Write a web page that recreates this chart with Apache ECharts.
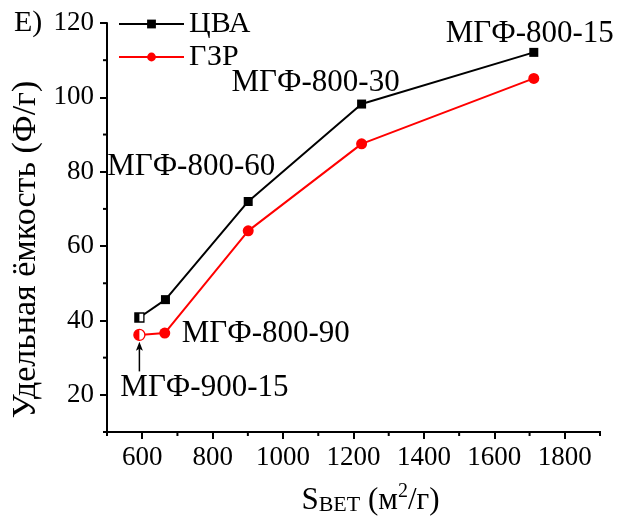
<!DOCTYPE html>
<html><head><meta charset="utf-8">
<script src="https://cdn.jsdelivr.net/npm/echarts@6/dist/echarts.min.js"></script>
<style>html,body{margin:0;padding:0;background:#fff}#wrap{position:relative;width:637px;height:531px}#c{width:637px;height:531px}#frame{position:absolute;box-sizing:border-box;border-left:2px solid #000;border-bottom:2px solid #000;pointer-events:none}</style>
</head><body><div id="wrap"><div id="c"></div><div id="frame"></div></div>
<script>
// ---- data ----
const sBET_CVA = [592, 666, 901, 1223, 1712];
const cap_CVA  = [40.8, 45.6, 72.0, 98.2, 112.1];
const sBET_GZR = [592, 664, 901, 1223, 1712];
const cap_GZR  = [36.1, 36.6, 64.1, 87.5, 105.1];
const labels_CVA = ['', '', 'МГФ-800-60', 'МГФ-800-30', 'МГФ-800-15'];
const labels_GZR = ['МГФ-900-15', 'МГФ-800-90', '', '', ''];
const xTickLabels = [600, 800, 1000, 1200, 1400, 1600, 1800];
const xMinorTicks = [500, 700, 900, 1100, 1300, 1500, 1700, 1900];
const yTickLabels = [20, 40, 60, 80, 100, 120];
const yMinorTicks = [10, 30, 50, 70, 90, 110];
const arrowFromY = 26.3, arrowToY = 34.3;   // arrow annotation under МГФ-900-15 (data units)

// ---- styles ----
const FONT = '"Liberation Serif", serif';
const labelOffsets = {
  'МГФ-800-60': [-57, -35],
  'МГФ-800-30': [-46, -21],
  'МГФ-800-15': [-4, -19],
  'МГФ-800-90': [101, 1],
  'МГФ-900-15': [65, 53]
};
function mkData(xs, ys, labels, firstStyle) {
  return xs.map((x, i) => {
    const d = { value: [x, ys[i]] };
    if (i === 0) d.itemStyle = firstStyle;
    if (labels[i]) {
      d.label = { show: true, formatter: labels[i], position: 'inside',
        offset: labelOffsets[labels[i]], fontFamily: FONT, fontSize: 31, color: '#000' };
    }
    return d;
  });
}
const X0 = 500, X1 = 1900, Y0 = 10, Y1 = 120;
const plain = v => String(v);
const eTitle = { type: 'text', left: 14, top: 8, style: { text: 'Е)', font: '30px "Liberation Serif"', fill: '#000' } };

const chart = echarts.init(document.getElementById('c'), null, { renderer: 'canvas' });
chart.setOption({
  backgroundColor: '#fff',
  animation: false,
  grid: { left: 107, right: 37, top: 23, bottom: 99, containLabel: false },
  legend: {
    data: ['ЦВА', 'ГЗР'], orient: 'vertical', left: 118, top: 9, padding: 0,
    itemWidth: 65, itemHeight: 11, itemGap: 3,
    textStyle: { fontFamily: FONT, fontSize: 30, color: '#000' }
  },
  graphic: [eTitle],
  xAxis: {
    type: 'value', min: X0, max: X1, splitLine: { show: false },
    name: '{s|S}{sub|BET}{s| (м}{sup|2}{s|/г)}', nameLocation: 'middle', nameGap: 50,
    nameTextStyle: { padding: [0, 0, 0, 34], rich: {
      s: { fontFamily: FONT, fontSize: 31, color: '#000', verticalAlign: 'bottom' },
      sub: { fontFamily: FONT, fontSize: 22, color: '#000', padding: [12, 0, 0, 0], verticalAlign: 'bottom' },
      sup: { fontFamily: FONT, fontSize: 20, color: '#000', padding: [0, 0, 14, 0], verticalAlign: 'bottom' } } },
    axisLine: { show: true, onZero: false, lineStyle: { color: '#000', width: 2 } },
    axisTick: { show: true, inside: false, length: 7, lineStyle: { color: '#000', width: 2 }, customValues: xTickLabels },
    axisLabel: { show: true, margin: 12, fontFamily: FONT, fontSize: 27, color: '#000', customValues: xTickLabels, formatter: plain }
  },
  yAxis: {
    type: 'value', min: Y0, max: Y1, splitLine: { show: false },
    name: 'Удельная ёмкость (Ф/г)', nameLocation: 'middle', nameGap: 64, nameRotate: 90,
    nameTextStyle: { fontFamily: FONT, fontSize: 34, color: '#000', padding: [0, 44, 0, 0] },
    axisLine: { show: true, onZero: false, lineStyle: { color: '#000', width: 2 } },
    axisTick: { show: true, length: 7, lineStyle: { color: '#000', width: 2 }, customValues: yTickLabels },
    axisLabel: { show: true, margin: 13, fontFamily: FONT, fontSize: 27, color: '#000', customValues: yTickLabels, formatter: plain }
  },
  series: [
    {
      name: 'ГЗР', type: 'line',
      data: mkData(sBET_GZR, cap_GZR, labels_GZR, { color: '#fff', borderColor: '#ff0000', borderWidth: 1.3 }),
      symbol: 'circle', symbolSize: 11, showAllSymbol: true,
      itemStyle: { color: '#ff0000' }, lineStyle: { color: '#ff0000', width: 2 },
      label: { show: false }
    },
    {
      name: 'ЦВА', type: 'line',
      data: mkData(sBET_CVA, cap_CVA, labels_CVA, { color: '#fff', borderColor: '#000', borderWidth: 1.3 }),
      symbol: 'rect', symbolSize: 9, showAllSymbol: true,
      itemStyle: { color: '#000' }, lineStyle: { color: '#000', width: 2 },
      label: { show: false }
    }
  ]
});

// ---- annotations placed through the chart's own scales ----
const px = v => chart.convertToPixel({ xAxisIndex: 0 }, v);
const py = v => chart.convertToPixel({ yAxisIndex: 0 }, v);
const gx0 = px(X0), gx1 = px(X1), gy0 = py(Y0), gy1 = py(Y1);
const ln = (x1, y1, x2, y2, w) => ({ type: 'line', z: 10, silent: true, shape: { x1, y1, x2, y2 }, style: { stroke: '#000', lineWidth: w } });
const extra = [eTitle];
// axis lines as filled bars (backup for the axis lines)
extra.push({ type: 'rect', z: 10, silent: true, shape: { x: gx0 - 1, y: gy0 - 1, width: gx1 - gx0 + 1, height: 2 }, style: { fill: '#000' } });
extra.push({ type: 'rect', z: 10, silent: true, shape: { x: gx0 - 1, y: gy1, width: 2, height: gy0 - gy1 + 1 }, style: { fill: '#000' } });
// minor ticks
xMinorTicks.forEach(v => extra.push(ln(px(v), gy0, px(v), gy0 + 4, 2)));
yMinorTicks.forEach(v => extra.push(ln(gx0, py(v), gx0 - 4, py(v), 2)));
// half-filled first markers
const pB = chart.convertToPixel({ seriesIndex: 1 }, [sBET_CVA[0], cap_CVA[0]]);
extra.push({ type: 'rect', z: 10, silent: true, shape: { x: pB[0] - 4.5, y: pB[1] - 4.5, width: 4.5, height: 9 }, style: { fill: '#000' } });
const pR = chart.convertToPixel({ seriesIndex: 0 }, [sBET_GZR[0], cap_GZR[0]]);
extra.push({ type: 'sector', z: 10, silent: true, shape: { cx: pR[0], cy: pR[1], r: 5.5, r0: 0, startAngle: Math.PI / 2, endAngle: Math.PI * 3 / 2, clockwise: true }, style: { fill: '#ff0000' } });
// arrow
const pFrom = chart.convertToPixel({ seriesIndex: 0 }, [sBET_GZR[0], arrowFromY]);
const pTo = chart.convertToPixel({ seriesIndex: 0 }, [sBET_GZR[0], arrowToY]);
extra.push(ln(pFrom[0], pFrom[1], pTo[0], pTo[1] + 6, 1.5));
extra.push({ type: 'polygon', z: 10, silent: true, shape: { points: [[pTo[0], pTo[1]], [pTo[0] - 3.5, pTo[1] + 9], [pTo[0], pTo[1] + 7], [pTo[0] + 3.5, pTo[1] + 9]] }, style: { fill: '#000' } });
chart.setOption({ graphic: extra });

// DOM frame along the axes (positions from the chart's scales)
const fr = document.getElementById('frame');
fr.style.left = (gx0 - 1) + 'px';
fr.style.top = gy1 + 'px';
fr.style.width = (gx1 - gx0 + 2) + 'px';
fr.style.height = (gy0 + 1 - gy1) + 'px';
</script>
</body></html>
